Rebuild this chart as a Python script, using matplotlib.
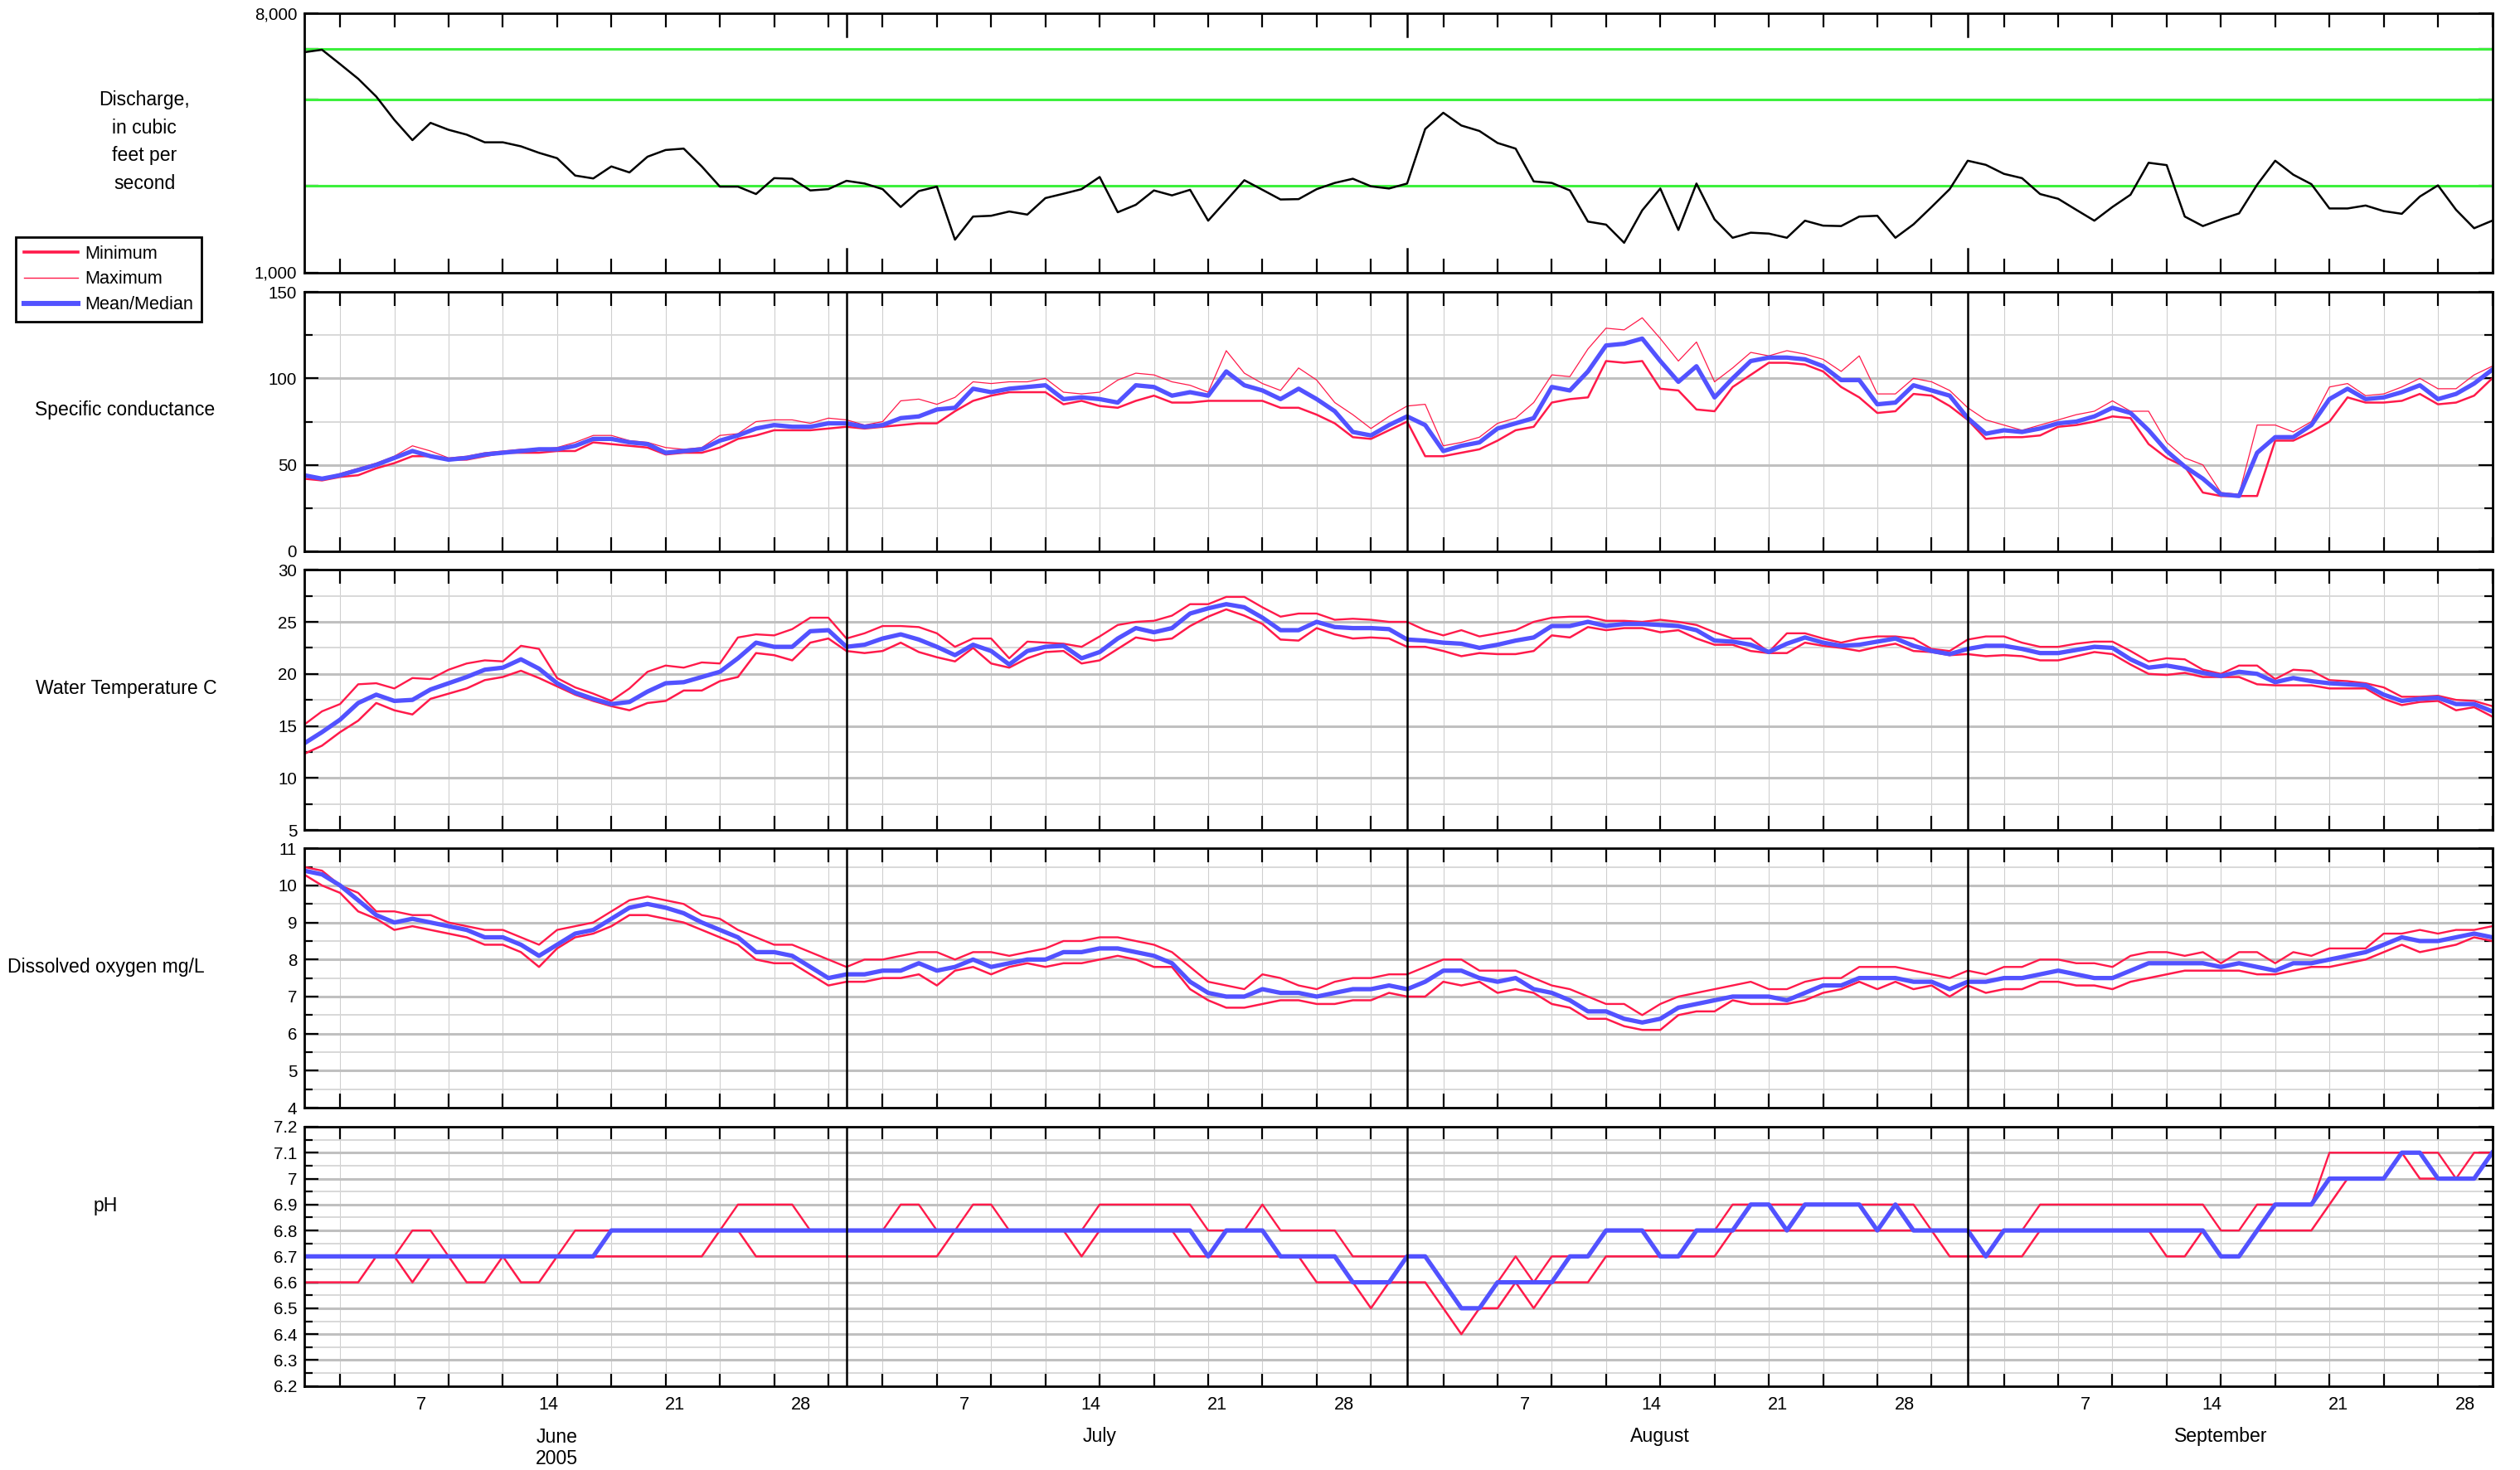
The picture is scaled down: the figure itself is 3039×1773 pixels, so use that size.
import numpy as np
import pandas as pd
import matplotlib
matplotlib.use("Agg")
import matplotlib.pyplot as plt
import matplotlib.dates as mdates
from matplotlib.lines import Line2D
from matplotlib.ticker import FixedLocator, NullLocator, FuncFormatter

plt.rcParams["font.family"] = ["Liberation Sans", "DejaVu Sans"]

# daily values, June 1 - September 30, 2005
days = pd.date_range("2005-06-01", "2005-09-30", freq="D")
months = ["June", "July", "August", "September"]

discharge = [5850, 5970, 5320, 4730, 4100, 3400, 2890, 3320, 3140, 3020,
             2840, 2840, 2750, 2610, 2500, 2175, 2125, 2340, 2230, 2530,
             2670, 2700, 2340, 1990, 1990, 1875, 2130, 2120, 1930, 1950,
             2085, 2040, 1950, 1690, 1920, 1990, 1300, 1565, 1575, 1630,
             1590, 1815, 1880, 1950, 2150, 1620, 1720, 1930, 1855, 1940,
             1514, 1780, 2095, 1940, 1795, 1800, 1950, 2050, 2120, 1995,
             1960, 2040, 3160, 3600, 3250, 3110, 2825, 2700, 2075, 2050,
             1930, 1503, 1467, 1268, 1645, 1960, 1405, 2040, 1530, 1320,
             1375, 1365, 1320, 1514, 1455, 1450, 1565, 1575, 1320, 1470,
             1690, 1950, 2450, 2370, 2205, 2130, 1875, 1805, 1652, 1514,
             1690, 1865, 2410, 2365, 1565, 1450, 1530, 1605, 2020, 2450,
             2190, 2030, 1670, 1670, 1710, 1635, 1600, 1838, 2010, 1652,
             1425, 1514]

cond_min = [42, 41, 43, 44, 48, 51, 55, 55, 53, 53, 55, 57, 57, 57, 58, 58, 63, 62, 61, 60,
            56, 57, 57, 60, 65, 67, 70, 70, 70, 71, 72, 71, 72, 73, 74, 74, 81, 87, 90, 92,
            92, 92, 85, 87, 84, 83, 87, 90, 86, 86, 87, 87, 87, 87, 83, 83, 79, 74, 66, 65,
            70, 75, 55, 55, 57, 59, 64, 70, 72, 86, 88, 89, 110, 109, 110, 94, 93, 82, 81, 95,
            102, 109, 109, 108, 104, 95, 89, 80, 81, 91, 90, 84, 76, 65, 66, 66, 67, 72, 73, 75,
            78, 77, 62, 54, 49, 34, 32, 32, 32, 64, 64, 69, 75, 89, 86, 86, 87, 91, 85, 86,
            90, 100]
cond_max = [44, 42, 45, 48, 51, 55, 61, 58, 54, 55, 57, 58, 59, 59, 60, 63, 67, 67, 64, 63,
            60, 59, 60, 67, 68, 75, 76, 76, 74, 77, 76, 73, 75, 87, 88, 85, 89, 98, 97, 98,
            98, 100, 92, 91, 92, 99, 103, 102, 98, 96, 92, 116, 103, 97, 93, 106, 99, 86, 79, 71,
            78, 84, 85, 61, 63, 66, 74, 77, 86, 102, 101, 117, 129, 128, 135, 123, 110, 121, 98, 106,
            115, 113, 116, 114, 111, 104, 113, 91, 91, 100, 98, 93, 83, 76, 73, 70, 73, 76, 79, 81,
            87, 81, 81, 63, 54, 50, 34, 33, 73, 73, 69, 75, 95, 97, 90, 91, 95, 100, 94, 94,
            102, 107]
cond_mean = [44, 42, 44, 47, 50, 54, 58, 55, 53, 54, 56, 57, 58, 59, 59, 61, 65, 65, 63, 62,
             57, 58, 59, 64, 67, 71, 73, 72, 72, 74, 74, 72, 73, 77, 78, 82, 83, 94, 92, 94,
             95, 96, 88, 89, 88, 86, 96, 95, 90, 92, 90, 104, 96, 93, 88, 94, 88, 81, 69, 67,
             73, 78, 73, 58, 61, 63, 71, 74, 77, 95, 93, 104, 119, 120, 123, 110, 98, 107, 89, 100,
             110, 112, 112, 111, 107, 99, 99, 85, 86, 96, 93, 90, 77, 68, 70, 69, 71, 74, 75, 78,
             83, 80, 70, 58, 49, 42, 33, 32, 57, 66, 66, 73, 88, 94, 88, 89, 92, 96, 88, 91,
             97, 105]

temp_min = [12.3, 13.1, 14.4, 15.5, 17.2, 16.5, 16.1, 17.6, 18.1, 18.6,
            19.4, 19.7, 20.3, 19.6, 18.8, 18.0, 17.4, 16.9, 16.5, 17.2,
            17.4, 18.4, 18.4, 19.3, 19.7, 22.0, 21.8, 21.3, 23.0, 23.4,
            22.2, 22.0, 22.2, 23.0, 22.1, 21.6, 21.2, 22.5, 21.0, 20.6,
            21.5, 22.1, 22.2, 21.0, 21.3, 22.4, 23.5, 23.2, 23.4, 24.6,
            25.5, 26.2, 25.6, 24.8, 23.3, 23.2, 24.4, 23.8, 23.4, 23.5,
            23.4, 22.6, 22.6, 22.2, 21.7, 22.0, 21.9, 21.9, 22.2, 23.7,
            23.5, 24.5, 24.2, 24.4, 24.4, 24.0, 24.2, 23.4, 22.8, 22.8,
            22.2, 22.0, 22.0, 23.0, 22.7, 22.5, 22.2, 22.6, 22.9, 22.2,
            22.1, 21.8, 21.9, 21.7, 21.8, 21.7, 21.3, 21.3, 21.7, 22.1,
            21.9, 20.9, 20.0, 19.9, 20.1, 19.7, 19.7, 19.7, 19.0, 18.9,
            18.9, 18.9, 18.6, 18.6, 18.6, 17.6, 17.0, 17.3, 17.4, 16.5,
            16.8, 15.9]
temp_max = [15.1, 16.4, 17.1, 19.0, 19.1, 18.6, 19.6, 19.5, 20.4, 21.0,
            21.3, 21.2, 22.7, 22.4, 19.6, 18.7, 18.1, 17.4, 18.6, 20.2,
            20.8, 20.6, 21.1, 21.0, 23.5, 23.8, 23.7, 24.3, 25.4, 25.4,
            23.4, 23.9, 24.6, 24.6, 24.5, 23.9, 22.6, 23.4, 23.4, 21.5,
            23.1, 23.0, 22.9, 22.6, 23.6, 24.7, 25.0, 25.1, 25.6, 26.7,
            26.7, 27.4, 27.4, 26.4, 25.5, 25.8, 25.8, 25.2, 25.3, 25.2,
            25.0, 25.0, 24.2, 23.7, 24.2, 23.6, 23.9, 24.2, 25.0, 25.4,
            25.5, 25.5, 25.1, 25.1, 25.0, 25.2, 25.0, 24.7, 24.0, 23.4,
            23.4, 22.1, 23.9, 23.9, 23.4, 23.0, 23.4, 23.6, 23.6, 23.4,
            22.4, 22.2, 23.3, 23.6, 23.6, 23.0, 22.6, 22.6, 22.9, 23.1,
            23.1, 22.2, 21.2, 21.5, 21.4, 20.4, 20.0, 20.8, 20.8, 19.5,
            20.4, 20.3, 19.4, 19.3, 19.1, 18.7, 17.8, 17.8, 17.9, 17.5,
            17.4, 16.9]
temp_mean = [13.3, 14.4, 15.6, 17.2, 18.0, 17.4, 17.5, 18.5, 19.1, 19.7,
             20.4, 20.6, 21.4, 20.5, 19.1, 18.2, 17.6, 17.1, 17.3, 18.3,
             19.1, 19.2, 19.7, 20.2, 21.5, 23.0, 22.6, 22.6, 24.1, 24.2,
             22.6, 22.8, 23.4, 23.8, 23.3, 22.6, 21.8, 22.8, 22.2, 20.9,
             22.2, 22.6, 22.7, 21.5, 22.1, 23.4, 24.4, 24.0, 24.4, 25.8,
             26.3, 26.7, 26.4, 25.4, 24.2, 24.2, 25.0, 24.5, 24.4, 24.4,
             24.3, 23.3, 23.2, 23.0, 22.9, 22.5, 22.8, 23.2, 23.5, 24.6,
             24.6, 25.0, 24.6, 24.8, 24.8, 24.7, 24.6, 24.2, 23.2, 23.1,
             22.8, 22.1, 22.9, 23.5, 23.0, 22.7, 22.8, 23.1, 23.4, 22.7,
             22.2, 21.9, 22.4, 22.7, 22.7, 22.4, 22.0, 22.0, 22.3, 22.6,
             22.5, 21.4, 20.6, 20.8, 20.5, 20.1, 19.8, 20.2, 20.0, 19.2,
             19.6, 19.3, 19.1, 19.0, 18.9, 18.0, 17.4, 17.6, 17.7, 17.1,
             17.1, 16.4]

do_min = [10.3, 10.0, 9.8, 9.3, 9.1, 8.8, 8.9, 8.8, 8.7, 8.6,
          8.4, 8.4, 8.2, 7.8, 8.3, 8.6, 8.7, 8.9, 9.2, 9.2,
          9.1, 9.0, 8.8, 8.6, 8.4, 8.0, 7.9, 7.9, 7.6, 7.3,
          7.4, 7.4, 7.5, 7.5, 7.6, 7.3, 7.7, 7.8, 7.6, 7.8,
          7.9, 7.8, 7.9, 7.9, 8.0, 8.1, 8.0, 7.8, 7.8, 7.2,
          6.9, 6.7, 6.7, 6.8, 6.9, 6.9, 6.8, 6.8, 6.9, 6.9,
          7.1, 7.0, 7.0, 7.4, 7.3, 7.4, 7.1, 7.2, 7.1, 6.8,
          6.7, 6.4, 6.4, 6.2, 6.1, 6.1, 6.5, 6.6, 6.6, 6.9,
          6.8, 6.8, 6.8, 6.9, 7.1, 7.2, 7.4, 7.2, 7.4, 7.2,
          7.3, 7.0, 7.3, 7.1, 7.2, 7.2, 7.4, 7.4, 7.3, 7.3,
          7.2, 7.4, 7.5, 7.6, 7.7, 7.7, 7.7, 7.7, 7.6, 7.6,
          7.7, 7.8, 7.8, 7.9, 8.0, 8.2, 8.4, 8.2, 8.3, 8.4,
          8.6, 8.5]
do_max = [10.5, 10.4, 10.0, 9.8, 9.3, 9.3, 9.2, 9.2, 9.0, 8.9,
          8.8, 8.8, 8.6, 8.4, 8.8, 8.9, 9.0, 9.3, 9.6, 9.7,
          9.6, 9.5, 9.2, 9.1, 8.8, 8.6, 8.4, 8.4, 8.2, 8.0,
          7.8, 8.0, 8.0, 8.1, 8.2, 8.2, 8.0, 8.2, 8.2, 8.1,
          8.2, 8.3, 8.5, 8.5, 8.6, 8.6, 8.5, 8.4, 8.2, 7.8,
          7.4, 7.3, 7.2, 7.6, 7.5, 7.3, 7.2, 7.4, 7.5, 7.5,
          7.6, 7.6, 7.8, 8.0, 8.0, 7.7, 7.7, 7.7, 7.5, 7.3,
          7.2, 7.0, 6.8, 6.8, 6.5, 6.8, 7.0, 7.1, 7.2, 7.3,
          7.4, 7.2, 7.2, 7.4, 7.5, 7.5, 7.8, 7.8, 7.8, 7.7,
          7.6, 7.5, 7.7, 7.6, 7.8, 7.8, 8.0, 8.0, 7.9, 7.9,
          7.8, 8.1, 8.2, 8.2, 8.1, 8.2, 7.9, 8.2, 8.2, 7.9,
          8.2, 8.1, 8.3, 8.3, 8.3, 8.7, 8.7, 8.8, 8.7, 8.8,
          8.8, 8.9]
do_mean = [10.4, 10.3, 10.0, 9.6, 9.2, 9.0, 9.1, 9.0, 8.9, 8.8,
           8.6, 8.6, 8.4, 8.1, 8.4, 8.7, 8.8, 9.1, 9.4, 9.5,
           9.4, 9.25, 9.0, 8.8, 8.6, 8.2, 8.2, 8.1, 7.8, 7.5,
           7.6, 7.6, 7.7, 7.7, 7.9, 7.7, 7.8, 8.0, 7.8, 7.9,
           8.0, 8.0, 8.2, 8.2, 8.3, 8.3, 8.2, 8.1, 7.9, 7.4,
           7.1, 7.0, 7.0, 7.2, 7.1, 7.1, 7.0, 7.1, 7.2, 7.2,
           7.3, 7.2, 7.4, 7.7, 7.7, 7.5, 7.4, 7.5, 7.2, 7.1,
           6.9, 6.6, 6.6, 6.4, 6.3, 6.4, 6.7, 6.8, 6.9, 7.0,
           7.0, 7.0, 6.9, 7.1, 7.3, 7.3, 7.5, 7.5, 7.5, 7.4,
           7.4, 7.2, 7.4, 7.4, 7.5, 7.5, 7.6, 7.7, 7.6, 7.5,
           7.5, 7.7, 7.9, 7.9, 7.9, 7.9, 7.8, 7.9, 7.8, 7.7,
           7.9, 7.9, 8.0, 8.1, 8.2, 8.4, 8.6, 8.5, 8.5, 8.6,
           8.7, 8.6]

ph_min = [6.6, 6.6, 6.6, 6.6, 6.7, 6.7, 6.6, 6.7, 6.7, 6.6,
          6.6, 6.7, 6.6, 6.6, 6.7, 6.7, 6.7, 6.7, 6.7, 6.7,
          6.7, 6.7, 6.7, 6.8, 6.8, 6.7, 6.7, 6.7, 6.7, 6.7,
          6.7, 6.7, 6.7, 6.7, 6.7, 6.7, 6.8, 6.8, 6.8, 6.8,
          6.8, 6.8, 6.8, 6.7, 6.8, 6.8, 6.8, 6.8, 6.8, 6.7,
          6.7, 6.7, 6.7, 6.7, 6.7, 6.7, 6.6, 6.6, 6.6, 6.5,
          6.6, 6.6, 6.6, 6.5, 6.4, 6.5, 6.5, 6.6, 6.5, 6.6,
          6.6, 6.6, 6.7, 6.7, 6.7, 6.7, 6.7, 6.7, 6.7, 6.8,
          6.8, 6.8, 6.8, 6.8, 6.8, 6.8, 6.8, 6.8, 6.8, 6.8,
          6.8, 6.7, 6.7, 6.7, 6.7, 6.7, 6.8, 6.8, 6.8, 6.8,
          6.8, 6.8, 6.8, 6.7, 6.7, 6.8, 6.7, 6.7, 6.8, 6.8,
          6.8, 6.8, 6.9, 7.0, 7.0, 7.0, 7.1, 7.0, 7.0, 7.0,
          7.0, 7.1]
ph_max = [6.7, 6.7, 6.7, 6.7, 6.7, 6.7, 6.8, 6.8, 6.7, 6.7,
          6.7, 6.7, 6.7, 6.7, 6.7, 6.8, 6.8, 6.8, 6.8, 6.8,
          6.8, 6.8, 6.8, 6.8, 6.9, 6.9, 6.9, 6.9, 6.8, 6.8,
          6.8, 6.8, 6.8, 6.9, 6.9, 6.8, 6.8, 6.9, 6.9, 6.8,
          6.8, 6.8, 6.8, 6.8, 6.9, 6.9, 6.9, 6.9, 6.9, 6.9,
          6.8, 6.8, 6.8, 6.9, 6.8, 6.8, 6.8, 6.8, 6.7, 6.7,
          6.7, 6.7, 6.7, 6.6, 6.5, 6.5, 6.6, 6.7, 6.6, 6.7,
          6.7, 6.7, 6.8, 6.8, 6.8, 6.8, 6.8, 6.8, 6.8, 6.9,
          6.9, 6.9, 6.9, 6.9, 6.9, 6.9, 6.9, 6.9, 6.9, 6.9,
          6.8, 6.8, 6.8, 6.8, 6.8, 6.8, 6.9, 6.9, 6.9, 6.9,
          6.9, 6.9, 6.9, 6.9, 6.9, 6.9, 6.8, 6.8, 6.9, 6.9,
          6.9, 6.9, 7.1, 7.1, 7.1, 7.1, 7.1, 7.1, 7.1, 7.0,
          7.1, 7.1]
ph_mean = [6.7, 6.7, 6.7, 6.7, 6.7, 6.7, 6.7, 6.7, 6.7, 6.7,
           6.7, 6.7, 6.7, 6.7, 6.7, 6.7, 6.7, 6.8, 6.8, 6.8,
           6.8, 6.8, 6.8, 6.8, 6.8, 6.8, 6.8, 6.8, 6.8, 6.8,
           6.8, 6.8, 6.8, 6.8, 6.8, 6.8, 6.8, 6.8, 6.8, 6.8,
           6.8, 6.8, 6.8, 6.8, 6.8, 6.8, 6.8, 6.8, 6.8, 6.8,
           6.7, 6.8, 6.8, 6.8, 6.7, 6.7, 6.7, 6.7, 6.6, 6.6,
           6.6, 6.7, 6.7, 6.6, 6.5, 6.5, 6.6, 6.6, 6.6, 6.6,
           6.7, 6.7, 6.8, 6.8, 6.8, 6.7, 6.7, 6.8, 6.8, 6.8,
           6.9, 6.9, 6.8, 6.9, 6.9, 6.9, 6.9, 6.8, 6.9, 6.8,
           6.8, 6.8, 6.8, 6.7, 6.8, 6.8, 6.8, 6.8, 6.8, 6.8,
           6.8, 6.8, 6.8, 6.8, 6.8, 6.8, 6.7, 6.7, 6.8, 6.9,
           6.9, 6.9, 7.0, 7.0, 7.0, 7.0, 7.1, 7.1, 7.0, 7.0,
           7.0, 7.1]

red = "#ff1a4a"
blue = "#5252ff"
green = "#3cf03c"

x = mdates.date2num(days.to_pydatetime())
tick_x = x[np.asarray(days.day % 3 == 0)]
lab_mask = np.asarray(days.day.isin([7, 14, 21, 28]))
label_x = x[lab_mask] + 0.5
label_txt = [str(d) for d in days.day[lab_mask]]
month_x = x[np.asarray(days.day == 1)][1:]
mid_x = x[np.asarray(days.day == 15)]

W, H = 3039, 1773
fig = plt.figure(figsize=(W / 200, H / 200), dpi=200)
L, R = 366.5, 3005.5
rows = [(16, 328.5), (352, 665), (687.3, 1001), (1023.3, 1336), (1359, 1671.7)]
axes = [fig.add_axes([L / W, 1 - b / H, (R - L) / W, (b - t) / H]) for t, b in rows]

for i, ax in enumerate(axes):
    ax.set_xlim(x[0], x[-1])
    ax.set_axisbelow(True)
    for s in ax.spines.values():
        s.set_linewidth(1.0)
    ax.xaxis.set_minor_locator(FixedLocator(tick_x))
    ax.set_xticks(label_x, labels=label_txt if i == 4 else [""] * len(label_x))
    ax.tick_params(axis="x", which="minor", direction="in", length=6, width=0.8,
                   top=True, bottom=True)
    ax.tick_params(axis="x", which="major", length=0, labelbottom=(i == 4),
                   pad=4.5, labelsize=7.8)
    ax.tick_params(axis="y", which="both", direction="in", left=True, right=True,
                   width=0.8, labelsize=7.4, pad=3)
    ax.tick_params(axis="y", which="major", length=6)
    ax.tick_params(axis="y", which="minor", length=3.5)
    if i == 0:
        for m in month_x:
            ax.axvline(m, ymin=0, ymax=0.09, color="black", lw=0.9)
            ax.axvline(m, ymin=0.91, ymax=1, color="black", lw=0.9)
    else:
        ax.grid(axis="x", which="minor", color="#cfcfcf", lw=0.4)
        ax.grid(axis="y", which="major", color="#c0c0c0", lw=1.1)
        ax.grid(axis="y", which="minor", color="#d8d8d8", lw=0.7)
        for m in month_x:
            ax.axvline(m, color="black", lw=0.9, zorder=3)

# discharge
ax = axes[0]
ax.set_yscale("log")
ax.set_ylim(1000, 8000)
ax.yaxis.set_major_locator(FixedLocator([1000, 2000, 4000, 6000, 8000]))
ax.yaxis.set_minor_locator(NullLocator())
ax.yaxis.set_major_formatter(FuncFormatter(lambda v, p: f"{v:,.0f}" if v in (1000, 8000) else ""))
for lvl in [2000, 4000, 6000]:
    ax.axhline(lvl, color=green, lw=1.1, zorder=1)
ax.plot(x, discharge, color="black", lw=0.9, zorder=2)

panels = [
    (axes[1], cond_min, cond_max, cond_mean, (0, 150), [0, 50, 100, 150], [25, 75, 125], 0.45),
    (axes[2], temp_min, temp_max, temp_mean, (5, 30), list(range(5, 31, 5)),
     list(np.arange(7.5, 30, 5)), 0.85),
    (axes[3], do_min, do_max, do_mean, (4, 11), list(range(4, 12)),
     list(np.arange(4.5, 11, 1)), 0.85),
    (axes[4], ph_min, ph_max, ph_mean, (6.2, 7.2), list(np.round(np.arange(6.2, 7.25, 0.1), 1)),
     list(np.round(np.arange(6.25, 7.2, 0.1), 2)), 0.85),
]
for ax, lo, hi, mid, lim, major, minor, hw in panels:
    ax.set_ylim(*lim)
    ax.yaxis.set_major_locator(FixedLocator(major))
    ax.yaxis.set_minor_locator(FixedLocator(minor))
    ax.yaxis.set_major_formatter(FuncFormatter(lambda v, p: f"{round(v, 1):g}"))
    ax.plot(x, lo, color=red, lw=0.9, zorder=2)
    ax.plot(x, hi, color=red, lw=hw, zorder=2)
    ax.plot(x, mid, color=blue, lw=1.9, zorder=2.5)

# month names under the bottom panel
ax = axes[4]
ax_h = 1671.7 - 1359
for mx, name in zip(mid_x, months):
    ax.text(mx, -(1733 - 1671.7) / ax_h, name, transform=ax.get_xaxis_transform(),
            ha="center", va="center", fontsize=8.3)
ax.text(mid_x[0], -(1759 - 1671.7) / ax_h, "2005", transform=ax.get_xaxis_transform(),
        ha="center", va="center", fontsize=8.3)

# row titles
titles = [("Discharge,\nin cubic\nfeet per\nsecond", 174, 171),
          ("Specific conductance", 151, 494),
          ("Water Temperature C", 152, 830),
          ("Dissolved oxygen mg/L", 128, 1167),
          ("pH", 127, 1455)]
for txt, tx, ty in titles:
    fig.text(tx / W, 1 - ty / H, txt, ha="center", va="center", fontsize=8.3,
             linespacing=1.58)

handles = [Line2D([], [], color=red, lw=1.3),
           Line2D([], [], color=red, lw=0.5),
           Line2D([], [], color=blue, lw=2.2)]
fig.legend(handles, ["Minimum", "Maximum", "Mean/Median"], loc="upper left",
           bbox_to_anchor=(19 / W, 1 - 286 / H), borderaxespad=0, frameon=True,
           fancybox=False, edgecolor="black", fontsize=7.8, handlelength=3.0,
           borderpad=0.45, labelspacing=0.45, handletextpad=0.4, framealpha=1)

fig.savefig("out.png", dpi=200)
